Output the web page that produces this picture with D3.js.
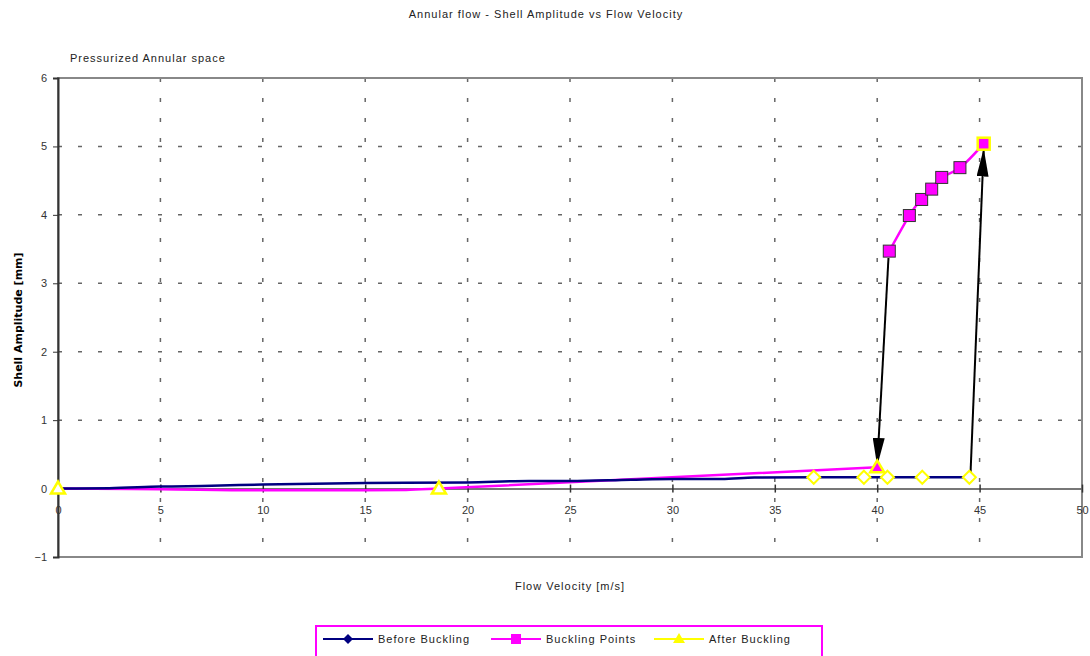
<!DOCTYPE html>
<html>
<head>
<meta charset="utf-8">
<script src="https://cdn.jsdelivr.net/npm/d3@7"></script>
<style>
  body { margin: 0; background: #fff; }
  svg { display: block; font-family: "Liberation Sans", Arial, sans-serif; }
  .lbl { font-size: 11px; fill: #222; letter-spacing: 1px; }
  .tick-lbl { font-size: 11px; fill: #333; }
</style>
</head>
<body>
<svg id="chart"></svg>
<script>
const width = 1090;
const height = 656;

// Before Buckling (navy line)
const beforeX = [0, 2.5, 5, 7.5, 10, 15, 20, 23, 25, 28, 30, 32.4, 34, 36.9, 39.35, 40.5, 42.2, 44.5];
const beforeY = [0, 0.005, 0.03, 0.04, 0.06, 0.08, 0.09, 0.11, 0.11, 0.13, 0.14, 0.14, 0.16, 0.165, 0.165, 0.165, 0.165, 0.165];
// points of the navy series drawn with hollow yellow diamonds
const diamondX = [36.9, 39.35, 40.5, 42.2, 44.5];

// Buckling Points (magenta), lower branch and upper branch
const buckLowX = [0, 5, 10, 15, 17, 18.6, 40];
const buckLowY = [0, -0.01, -0.025, -0.025, -0.02, 0, 0.31];
const buckHighX = [40.59, 41.57, 42.17, 42.66, 43.15, 44.04, 45.2];
const buckHighY = [3.47, 3.99, 4.225, 4.376, 4.547, 4.69, 5.04];

// After Buckling (yellow triangles)
const afterX = [0, 18.6, 40];
const afterY = [0, 0, 0.31];

// arrows [x1, y1, x2, y2] in data units, head at (x2, y2)
const arrows = [
  [40.55, 3.37, 40.0, 0.33],
  [44.55, 0.17, 45.2, 4.97]
];

const xTicks = [0, 5, 10, 15, 20, 25, 30, 35, 40, 45, 50];
const yTicks = [-1, 0, 1, 2, 3, 4, 5, 6];

const svg = d3.select("#chart").attr("width", width).attr("height", height);

const x = d3.scaleLinear().domain([0, 50]).range([58, 1082]);
const y = d3.scaleLinear().domain([-1, 6]).range([557, 78]);

// grid
svg.append("g")
  .selectAll("line")
  .data(xTicks.filter(d => d > 0 && d < 50))
  .enter()
  .append("line")
  .attr("x1", d => x(d)).attr("x2", d => x(d))
  .attr("y1", y(6)).attr("y2", y(-1))
  .attr("stroke", "#666").attr("stroke-width", 1.5)
  .attr("stroke-dasharray", "4,16");

svg.append("g")
  .selectAll("line")
  .data(yTicks.filter(d => d > -1 && d < 6 && d !== 0))
  .enter()
  .append("line")
  .attr("x1", x(0)).attr("x2", x(50))
  .attr("y1", d => y(d)).attr("y2", d => y(d))
  .attr("stroke", "#666").attr("stroke-width", 1.5)
  .attr("stroke-dasharray", "4,16");

// frame
svg.append("rect")
  .attr("x", x(0)).attr("y", y(6))
  .attr("width", x(50) - x(0)).attr("height", y(-1) - y(6))
  .attr("fill", "none").attr("stroke", "#888").attr("stroke-width", 2);

// x axis at y = 0
const xAxis = d3.axisBottom(x).tickValues(xTicks).tickSize(0).tickFormat(d3.format("d"));
const xg = svg.append("g")
  .attr("transform", `translate(0, ${y(0)})`)
  .call(xAxis);
xg.select(".domain").attr("stroke", "#777").attr("stroke-width", 2);
xg.selectAll(".tick text").attr("class", "tick-lbl").attr("dy", "2em")
  .style("font-family", "Liberation Sans, Arial, sans-serif").style("font-size", "11px");
xg.selectAll(".tick").append("line")
  .attr("y1", -4).attr("y2", 4).attr("stroke", "#333").attr("stroke-width", 1.5);

// y axis
const yAxis = d3.axisLeft(y).tickValues(yTicks).tickSize(5).tickPadding(6)
  .tickFormat(d => d < 0 ? "\u2212" + Math.abs(d) : d);
const yg = svg.append("g")
  .attr("transform", `translate(${x(0)}, 0)`)
  .call(yAxis);
yg.select(".domain").attr("stroke", "#333").attr("stroke-width", 2);
yg.selectAll(".tick line").attr("stroke", "#333");
yg.selectAll(".tick text").attr("class", "tick-lbl")
  .style("font-family", "Liberation Sans, Arial, sans-serif").style("font-size", "11px");

// series
const navyData = beforeX.map((d, i) => [d, beforeY[i]]);
const lowData = buckLowX.map((d, i) => [d, buckLowY[i]]);
const highData = buckHighX.map((d, i) => [d, buckHighY[i]]);

const line = d3.line().x(d => x(d[0])).y(d => y(d[1])).curve(d3.curveMonotoneX);

svg.append("path").datum(lowData).attr("d", line)
  .attr("fill", "none").attr("stroke", "#ff00ff").attr("stroke-width", 2.5);
svg.append("path").datum(navyData).attr("d", line)
  .attr("fill", "none").attr("stroke", "#000080").attr("stroke-width", 2.5);
svg.append("path").datum(highData).attr("d", d3.line().x(d => x(d[0])).y(d => y(d[1])).curve(d3.curveNatural))
  .attr("fill", "none").attr("stroke", "#ff00ff").attr("stroke-width", 2.5);

// arrows
svg.append("defs").append("marker")
  .attr("id", "head")
  .attr("viewBox", "0 0 28 12")
  .attr("refX", 28).attr("refY", 6)
  .attr("markerWidth", 28).attr("markerHeight", 12)
  .attr("markerUnits", "userSpaceOnUse")
  .attr("orient", "auto")
  .append("path").attr("d", "M0,0 L28,6 L0,12 Z").attr("fill", "#000");

svg.append("g")
  .selectAll("line")
  .data(arrows)
  .enter()
  .append("line")
  .attr("x1", d => x(d[0])).attr("y1", d => y(d[1]))
  .attr("x2", d => x(d[2])).attr("y2", d => y(d[3]))
  .attr("stroke", "#000").attr("stroke-width", 2)
  .attr("marker-end", "url(#head)");

// diamonds on the navy series
const navyLookup = new Map(navyData);
svg.append("g")
  .selectAll("path")
  .data(diamondX)
  .enter()
  .append("path")
  .attr("transform", d => `translate(${x(d)}, ${y(navyLookup.get(d))})`)
  .attr("d", "M0,-6.5 L6.5,0 L0,6.5 L-6.5,0 Z")
  .attr("fill", "#fff").attr("stroke", "#ffff00").attr("stroke-width", 2);

// buckling squares
svg.append("g")
  .selectAll("rect")
  .data(highData)
  .enter()
  .append("rect")
  .attr("x", d => x(d[0]) - 6).attr("y", d => y(d[1]) - 6)
  .attr("width", 12).attr("height", 12)
  .attr("fill", "#ff00ff")
  .attr("stroke", (d, i) => i === highData.length - 1 ? "#ffff00" : "#333")
  .attr("stroke-width", (d, i) => i === highData.length - 1 ? 2.5 : 1);

// after buckling triangles
svg.append("g")
  .selectAll("path")
  .data(afterX.map((d, i) => [d, afterY[i]]))
  .enter()
  .append("path")
  .attr("transform", d => `translate(${x(d[0])}, ${y(d[1])})`)
  .attr("d", "M0,-7 L7,5 L-7,5 Z")
  .attr("fill", (d, i) => i === afterX.length - 1 ? "#ff00ff" : "#fff")
  .attr("stroke", "#ffff00").attr("stroke-width", 2.5);

// texts
svg.append("text").attr("class", "lbl")
  .attr("x", 546).attr("y", 18).attr("text-anchor", "middle")
  .text("Annular flow - Shell Amplitude vs Flow Velocity");

svg.append("text").attr("class", "lbl")
  .attr("x", 70).attr("y", 62)
  .text("Pressurized Annular space");

svg.append("text").attr("class", "lbl")
  .attr("x", 570).attr("y", 590).attr("text-anchor", "middle")
  .text("Flow Velocity [m/s]");

svg.append("text")
  .attr("transform", `translate(22, 320) rotate(-90)`)
  .attr("text-anchor", "middle")
  .style("font-family", "DejaVu Sans, sans-serif")
  .style("font-size", "11px").style("font-weight", "bold")
  .text("Shell Amplitude [mm]");

// legend
const legendItems = ["Before Buckling", "Buckling Points", "After Buckling"];
const legendColors = ["#000080", "#ff00ff", "#ffff00"];
const legendX = [323, 491, 654];

const legend = svg.append("g");
legend.append("rect")
  .attr("x", 316).attr("y", 626).attr("width", 506).attr("height", 40)
  .attr("fill", "#fff").attr("stroke", "#ff00ff").attr("stroke-width", 2);

legendItems.forEach((name, i) => {
  const g = legend.append("g").attr("transform", `translate(${legendX[i]}, 639)`);
  g.append("line").attr("x1", 0).attr("x2", 50).attr("y1", 0).attr("y2", 0)
    .attr("stroke", legendColors[i]).attr("stroke-width", 2);
  if (i === 0) g.append("path").attr("d", "M25,-5 L30,0 L25,5 L20,0 Z").attr("fill", "#000080");
  if (i === 1) g.append("rect").attr("x", 20).attr("y", -5).attr("width", 10).attr("height", 10).attr("fill", "#ff00ff");
  if (i === 2) g.append("path").attr("d", "M25,-6 L31,4 L19,4 Z").attr("fill", "#ffff00");
  g.append("text").attr("class", "lbl").attr("x", 55).attr("y", 4).text(name);
});
</script>
</body>
</html>
